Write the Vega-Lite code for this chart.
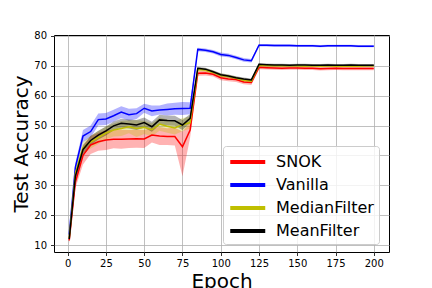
{
  "$schema": "https://vega.github.io/schema/vega-lite/v6.json",
  "width": 335,
  "height": 217,
  "autosize": {"type": "none"},
  "padding": {"left": 54, "top": 35, "right": 43, "bottom": 36},
  "background": "white",
  "config": {
    "font": "DejaVu Sans",
    "view": {"stroke": "#000000", "strokeWidth": 1},
    "axis": {
      "domain": false,
      "grid": true,
      "gridColor": "#b0b0b0",
      "gridWidth": 0.8,
      "tickColor": "#000000",
      "tickSize": 3.5,
      "tickWidth": 0.8,
      "labelOverlap": false,
      "labelFont": "DejaVu Sans",
      "labelFontSize": 10,
      "labelColor": "#000000",
      "titleFont": "DejaVu Sans",
      "titleFontSize": 20,
      "titleFontWeight": "normal",
      "titleColor": "#000000"
    },
    "legend": {
      "orient": "none",
      "legendX": 169,
      "legendY": 111,
      "symbolType": "M-1,0H3",
      "symbolSize": 306,
      "symbolStrokeWidth": 4,
      "symbolOpacity": 1,
      "labelFont": "DejaVu Sans",
      "labelFontSize": 16,
      "labelColor": "#000000",
      "labelOffset": 26,
      "rowPadding": 4,
      "padding": 5,
      "strokeColor": "#cccccc",
      "fillColor": "rgba(255,255,255,0.8)",
      "cornerRadius": 3
    }
  },
  "data": {"values": [
    {"s":"SNOK","e":1,"m":11.5,"lo":10.5,"hi":12.5},
    {"s":"SNOK","e":5,"m":31,"lo":29,"hi":33},
    {"s":"SNOK","e":10,"m":40,"lo":37,"hi":43},
    {"s":"SNOK","e":15,"m":43.5,"lo":40.5,"hi":46.5},
    {"s":"SNOK","e":20,"m":44.6,"lo":41.6,"hi":47.6},
    {"s":"SNOK","e":25,"m":45.2,"lo":41.8,"hi":48.4},
    {"s":"SNOK","e":30,"m":45.4,"lo":42.4,"hi":48.4},
    {"s":"SNOK","e":35,"m":45.4,"lo":42.2,"hi":48.6},
    {"s":"SNOK","e":40,"m":45.5,"lo":42.5,"hi":48.5},
    {"s":"SNOK","e":45,"m":45.6,"lo":42.6,"hi":48.6},
    {"s":"SNOK","e":50,"m":45.5,"lo":42.5,"hi":48.5},
    {"s":"SNOK","e":55,"m":46.8,"lo":44.3,"hi":49.3},
    {"s":"SNOK","e":60,"m":46.5,"lo":43.5,"hi":49.5},
    {"s":"SNOK","e":65,"m":46.3,"lo":43.5,"hi":49.1},
    {"s":"SNOK","e":70,"m":46.3,"lo":43.3,"hi":49.3},
    {"s":"SNOK","e":75,"m":42.9,"lo":33,"hi":48},
    {"s":"SNOK","e":80,"m":48.5,"lo":46,"hi":51},
    {"s":"SNOK","e":85,"m":67.5,"lo":66.7,"hi":68.3},
    {"s":"SNOK","e":90,"m":67.6,"lo":66.8,"hi":68.4},
    {"s":"SNOK","e":95,"m":67.2,"lo":66.4,"hi":68},
    {"s":"SNOK","e":100,"m":66,"lo":65.2,"hi":66.8},
    {"s":"SNOK","e":105,"m":65.6,"lo":64.8,"hi":66.4},
    {"s":"SNOK","e":110,"m":65.4,"lo":64.6,"hi":66.2},
    {"s":"SNOK","e":115,"m":64.6,"lo":63.8,"hi":65.4},
    {"s":"SNOK","e":120,"m":64.4,"lo":63.6,"hi":65.2},
    {"s":"SNOK","e":125,"m":69.5,"lo":68.9,"hi":70.1},
    {"s":"SNOK","e":130,"m":69.4,"lo":68.8,"hi":70},
    {"s":"SNOK","e":135,"m":69.3,"lo":68.7,"hi":69.9},
    {"s":"SNOK","e":140,"m":69.2,"lo":68.6,"hi":69.8},
    {"s":"SNOK","e":145,"m":69.3,"lo":68.7,"hi":69.9},
    {"s":"SNOK","e":150,"m":69.3,"lo":68.7,"hi":69.9},
    {"s":"SNOK","e":155,"m":69.2,"lo":68.6,"hi":69.8},
    {"s":"SNOK","e":160,"m":69.2,"lo":68.6,"hi":69.8},
    {"s":"SNOK","e":165,"m":69.0,"lo":68.4,"hi":69.6},
    {"s":"SNOK","e":170,"m":69.1,"lo":68.5,"hi":69.7},
    {"s":"SNOK","e":175,"m":69.2,"lo":68.6,"hi":69.8},
    {"s":"SNOK","e":180,"m":69.1,"lo":68.5,"hi":69.7},
    {"s":"SNOK","e":185,"m":69.1,"lo":68.5,"hi":69.7},
    {"s":"SNOK","e":190,"m":69.1,"lo":68.5,"hi":69.7},
    {"s":"SNOK","e":195,"m":69.1,"lo":68.5,"hi":69.7},
    {"s":"SNOK","e":200,"m":69.1,"lo":68.5,"hi":69.7},

    {"s":"Vanilla","e":1,"m":13.5,"lo":12.5,"hi":14.5},
    {"s":"Vanilla","e":5,"m":36,"lo":34.5,"hi":37.5},
    {"s":"Vanilla","e":10,"m":46.5,"lo":44.5,"hi":48.5},
    {"s":"Vanilla","e":15,"m":48,"lo":46,"hi":50},
    {"s":"Vanilla","e":20,"m":52,"lo":50,"hi":54},
    {"s":"Vanilla","e":25,"m":52.2,"lo":50.2,"hi":54.2},
    {"s":"Vanilla","e":30,"m":53.3,"lo":51.3,"hi":55.3},
    {"s":"Vanilla","e":35,"m":54.5,"lo":52.5,"hi":56.5},
    {"s":"Vanilla","e":40,"m":53.6,"lo":51.6,"hi":55.6},
    {"s":"Vanilla","e":45,"m":54,"lo":52.2,"hi":55.8},
    {"s":"Vanilla","e":50,"m":55.8,"lo":54.3,"hi":57.3},
    {"s":"Vanilla","e":55,"m":54.9,"lo":53.1,"hi":56.7},
    {"s":"Vanilla","e":60,"m":55.2,"lo":53.7,"hi":56.7},
    {"s":"Vanilla","e":65,"m":55.4,"lo":53.4,"hi":57.4},
    {"s":"Vanilla","e":70,"m":55.6,"lo":53.6,"hi":57.6},
    {"s":"Vanilla","e":75,"m":55.7,"lo":53.5,"hi":57.9},
    {"s":"Vanilla","e":80,"m":55.8,"lo":53.8,"hi":57.8},
    {"s":"Vanilla","e":85,"m":75.5,"lo":74.9,"hi":76.1},
    {"s":"Vanilla","e":90,"m":75.2,"lo":74.6,"hi":75.8},
    {"s":"Vanilla","e":95,"m":74.7,"lo":74.1,"hi":75.3},
    {"s":"Vanilla","e":100,"m":73.8,"lo":73.1,"hi":74.5},
    {"s":"Vanilla","e":105,"m":73.5,"lo":72.9,"hi":74.1},
    {"s":"Vanilla","e":110,"m":72.8,"lo":72.2,"hi":73.4},
    {"s":"Vanilla","e":115,"m":72,"lo":71.4,"hi":72.6},
    {"s":"Vanilla","e":120,"m":71.7,"lo":71.1,"hi":72.3},
    {"s":"Vanilla","e":125,"m":76.9,"lo":76.5,"hi":77.3},
    {"s":"Vanilla","e":130,"m":76.9,"lo":76.5,"hi":77.3},
    {"s":"Vanilla","e":135,"m":76.8,"lo":76.4,"hi":77.2},
    {"s":"Vanilla","e":140,"m":76.8,"lo":76.4,"hi":77.2},
    {"s":"Vanilla","e":145,"m":76.8,"lo":76.4,"hi":77.2},
    {"s":"Vanilla","e":150,"m":76.7,"lo":76.3,"hi":77.1},
    {"s":"Vanilla","e":155,"m":76.7,"lo":76.3,"hi":77.1},
    {"s":"Vanilla","e":160,"m":76.7,"lo":76.3,"hi":77.1},
    {"s":"Vanilla","e":165,"m":76.6,"lo":76.2,"hi":77},
    {"s":"Vanilla","e":170,"m":76.7,"lo":76.3,"hi":77.1},
    {"s":"Vanilla","e":175,"m":76.7,"lo":76.3,"hi":77.1},
    {"s":"Vanilla","e":180,"m":76.7,"lo":76.3,"hi":77.1},
    {"s":"Vanilla","e":185,"m":76.7,"lo":76.3,"hi":77.1},
    {"s":"Vanilla","e":190,"m":76.6,"lo":76.2,"hi":77},
    {"s":"Vanilla","e":195,"m":76.6,"lo":76.2,"hi":77},
    {"s":"Vanilla","e":200,"m":76.6,"lo":76.2,"hi":77},

    {"s":"MedianFilter","e":1,"m":12.3,"lo":11.3,"hi":13.3},
    {"s":"MedianFilter","e":5,"m":34,"lo":32.5,"hi":35.5},
    {"s":"MedianFilter","e":10,"m":42.5,"lo":40.5,"hi":44.5},
    {"s":"MedianFilter","e":15,"m":44.5,"lo":42.3,"hi":46.7},
    {"s":"MedianFilter","e":20,"m":46,"lo":43.8,"hi":48.2},
    {"s":"MedianFilter","e":25,"m":47.5,"lo":45.3,"hi":49.7},
    {"s":"MedianFilter","e":30,"m":48.5,"lo":46.3,"hi":50.7},
    {"s":"MedianFilter","e":35,"m":49,"lo":46.5,"hi":51.5},
    {"s":"MedianFilter","e":40,"m":49.6,"lo":47.4,"hi":51.8},
    {"s":"MedianFilter","e":45,"m":49,"lo":46.2,"hi":51.8},
    {"s":"MedianFilter","e":50,"m":49.4,"lo":47.2,"hi":51.6},
    {"s":"MedianFilter","e":55,"m":48.6,"lo":46.4,"hi":50.8},
    {"s":"MedianFilter","e":60,"m":50.5,"lo":48.3,"hi":52.7},
    {"s":"MedianFilter","e":65,"m":49.8,"lo":47.6,"hi":52},
    {"s":"MedianFilter","e":70,"m":49.2,"lo":47,"hi":51.4},
    {"s":"MedianFilter","e":75,"m":50.3,"lo":48.1,"hi":52.5},
    {"s":"MedianFilter","e":80,"m":51,"lo":49,"hi":53},
    {"s":"MedianFilter","e":85,"m":68.8,"lo":68.2,"hi":69.4},
    {"s":"MedianFilter","e":90,"m":68.6,"lo":68,"hi":69.2},
    {"s":"MedianFilter","e":95,"m":67.8,"lo":67.2,"hi":68.4},
    {"s":"MedianFilter","e":100,"m":66.8,"lo":66.2,"hi":67.4},
    {"s":"MedianFilter","e":105,"m":66.4,"lo":65.8,"hi":67},
    {"s":"MedianFilter","e":110,"m":65.8,"lo":65.2,"hi":66.4},
    {"s":"MedianFilter","e":115,"m":65.2,"lo":64.6,"hi":65.8},
    {"s":"MedianFilter","e":120,"m":64.9,"lo":64.3,"hi":65.5},
    {"s":"MedianFilter","e":125,"m":70.2,"lo":69.8,"hi":70.6},
    {"s":"MedianFilter","e":130,"m":70.1,"lo":69.7,"hi":70.5},
    {"s":"MedianFilter","e":135,"m":70,"lo":69.6,"hi":70.4},
    {"s":"MedianFilter","e":140,"m":70,"lo":69.6,"hi":70.4},
    {"s":"MedianFilter","e":145,"m":70,"lo":69.6,"hi":70.4},
    {"s":"MedianFilter","e":150,"m":70,"lo":69.6,"hi":70.4},
    {"s":"MedianFilter","e":155,"m":69.9,"lo":69.5,"hi":70.3},
    {"s":"MedianFilter","e":160,"m":70,"lo":69.6,"hi":70.4},
    {"s":"MedianFilter","e":165,"m":69.9,"lo":69.5,"hi":70.3},
    {"s":"MedianFilter","e":170,"m":70,"lo":69.6,"hi":70.4},
    {"s":"MedianFilter","e":175,"m":69.9,"lo":69.5,"hi":70.3},
    {"s":"MedianFilter","e":180,"m":69.9,"lo":69.5,"hi":70.3},
    {"s":"MedianFilter","e":185,"m":69.9,"lo":69.5,"hi":70.3},
    {"s":"MedianFilter","e":190,"m":69.9,"lo":69.5,"hi":70.3},
    {"s":"MedianFilter","e":195,"m":70,"lo":69.6,"hi":70.4},
    {"s":"MedianFilter","e":200,"m":70,"lo":69.6,"hi":70.4},

    {"s":"MeanFilter","e":1,"m":12,"lo":11,"hi":13},
    {"s":"MeanFilter","e":5,"m":33,"lo":31.5,"hi":34.5},
    {"s":"MeanFilter","e":10,"m":42,"lo":40.5,"hi":43.5},
    {"s":"MeanFilter","e":15,"m":45,"lo":43.5,"hi":46.5},
    {"s":"MeanFilter","e":20,"m":46.8,"lo":45.3,"hi":48.3},
    {"s":"MeanFilter","e":25,"m":48.2,"lo":46.7,"hi":49.7},
    {"s":"MeanFilter","e":30,"m":49.9,"lo":48.4,"hi":51.4},
    {"s":"MeanFilter","e":35,"m":50.8,"lo":49.3,"hi":52.3},
    {"s":"MeanFilter","e":40,"m":50.5,"lo":49,"hi":52},
    {"s":"MeanFilter","e":45,"m":50.2,"lo":48.5,"hi":51.9},
    {"s":"MeanFilter","e":50,"m":51,"lo":49.3,"hi":52.7},
    {"s":"MeanFilter","e":55,"m":49.6,"lo":47.9,"hi":51.3},
    {"s":"MeanFilter","e":60,"m":51.9,"lo":50.2,"hi":53.6},
    {"s":"MeanFilter","e":65,"m":51.7,"lo":50,"hi":53.4},
    {"s":"MeanFilter","e":70,"m":51.6,"lo":49.9,"hi":53.3},
    {"s":"MeanFilter","e":75,"m":50.2,"lo":48.5,"hi":51.9},
    {"s":"MeanFilter","e":80,"m":52.4,"lo":50.9,"hi":53.9},
    {"s":"MeanFilter","e":85,"m":69.2,"lo":68.7,"hi":69.7},
    {"s":"MeanFilter","e":90,"m":68.9,"lo":68.4,"hi":69.4},
    {"s":"MeanFilter","e":95,"m":68,"lo":67.5,"hi":68.5},
    {"s":"MeanFilter","e":100,"m":67,"lo":66.5,"hi":67.5},
    {"s":"MeanFilter","e":105,"m":66.6,"lo":66.1,"hi":67.1},
    {"s":"MeanFilter","e":110,"m":66,"lo":65.5,"hi":66.5},
    {"s":"MeanFilter","e":115,"m":65.6,"lo":65.1,"hi":66.1},
    {"s":"MeanFilter","e":120,"m":65.3,"lo":64.8,"hi":65.8},
    {"s":"MeanFilter","e":125,"m":70.5,"lo":70.1,"hi":70.9},
    {"s":"MeanFilter","e":130,"m":70.4,"lo":70,"hi":70.8},
    {"s":"MeanFilter","e":135,"m":70.3,"lo":69.9,"hi":70.7},
    {"s":"MeanFilter","e":140,"m":70.3,"lo":69.9,"hi":70.7},
    {"s":"MeanFilter","e":145,"m":70.2,"lo":69.8,"hi":70.6},
    {"s":"MeanFilter","e":150,"m":70.3,"lo":69.9,"hi":70.7},
    {"s":"MeanFilter","e":155,"m":70.3,"lo":69.9,"hi":70.7},
    {"s":"MeanFilter","e":160,"m":70.2,"lo":69.8,"hi":70.6},
    {"s":"MeanFilter","e":165,"m":70.2,"lo":69.8,"hi":70.6},
    {"s":"MeanFilter","e":170,"m":70.3,"lo":69.9,"hi":70.7},
    {"s":"MeanFilter","e":175,"m":70.2,"lo":69.8,"hi":70.6},
    {"s":"MeanFilter","e":180,"m":70.2,"lo":69.8,"hi":70.6},
    {"s":"MeanFilter","e":185,"m":70.3,"lo":69.9,"hi":70.7},
    {"s":"MeanFilter","e":190,"m":70.2,"lo":69.8,"hi":70.6},
    {"s":"MeanFilter","e":195,"m":70.2,"lo":69.8,"hi":70.6},
    {"s":"MeanFilter","e":200,"m":70.2,"lo":69.8,"hi":70.6}
  ]},
  "encoding": {
    "x": {
      "field": "e", "type": "quantitative",
      "scale": {"domain": [-8.95, 209.95], "nice": false, "zero": false},
      "axis": {"values": [0,25,50,75,100,125,150,175,200], "title": "Epoch", "labelPadding": 3, "labelOverlap": false, "titleY": 35, "titleBaseline": "alphabetic"}
    },
    "color": {
      "field": "s", "type": "nominal",
      "scale": {"domain": ["SNOK","Vanilla","MedianFilter","MeanFilter"], "range": ["#ff0000","#0000ff","#bfbf00","#000000"]},
      "title": null
    }
  },
  "layer": [
    {
      "mark": {"type": "area", "opacity": 0.3},
      "encoding": {
        "y": {
          "field": "lo", "type": "quantitative",
          "scale": {"domain": [7.66, 80.33], "nice": false, "zero": false},
          "axis": {"values": [10,20,30,40,50,60,70,80], "title": "Test Accuracy", "labelPadding": 4, "labelOverlap": false, "labelBound": false, "titleX": -27, "titleY": 108.5, "titleBaseline": "alphabetic", "titleAngle": -90}
        },
        "y2": {"field": "hi"}
      }
    },
    {
      "mark": {"type": "line", "strokeWidth": 1.5},
      "encoding": {
        "y": {
          "field": "m", "type": "quantitative",
          "axis": {"values": [10,20,30,40,50,60,70,80], "title": "Test Accuracy", "labelPadding": 4, "labelOverlap": false, "labelBound": false, "titleX": -27, "titleY": 108.5, "titleBaseline": "alphabetic", "titleAngle": -90}
        }
      }
    }
  ]
}
